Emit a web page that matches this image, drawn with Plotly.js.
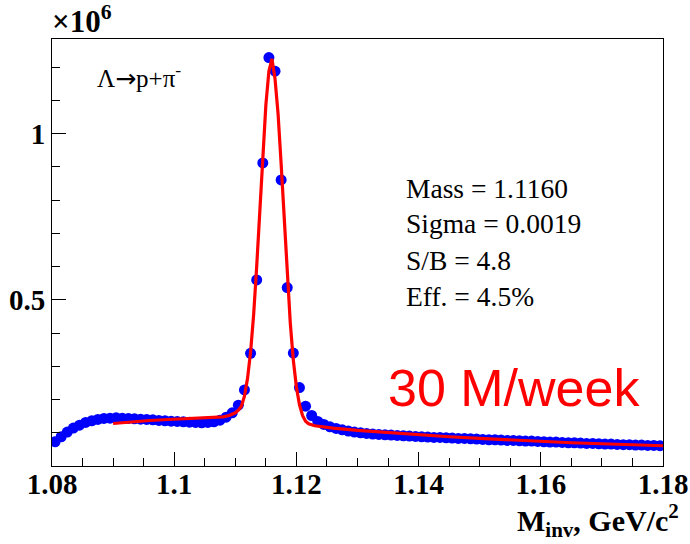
<!DOCTYPE html>
<html>
<head>
<meta charset="utf-8">
<script src="https://cdn.plot.ly/plotly-3.0.1.min.js"></script>
<style>html,body{margin:0;padding:0;background:#fff;}#chart{width:690px;height:544px;}</style>
</head>
<body>
<div id="chart"></div>
<script>
// Histogram binning (GeV/c^2)
const binStart = 1.08;
const binWidth = 0.001;
const nBins = 100;

// Measured counts per bin, in units of 10^6
const countsM = [
  0.073, 0.088, 0.102, 0.114, 0.123, 0.131, 0.136, 0.140, 0.143, 0.144,
  0.145, 0.144, 0.143, 0.142, 0.141, 0.140, 0.139, 0.137, 0.136, 0.135,
  0.134, 0.133, 0.132, 0.131, 0.130, 0.131, 0.133, 0.138, 0.147, 0.160,
  0.183, 0.229, 0.339, 0.560, 0.912, 1.229, 1.188, 0.861, 0.537, 0.340,
  0.236, 0.180, 0.152, 0.134, 0.125, 0.118, 0.113, 0.109, 0.105, 0.102,
  0.100, 0.098, 0.096, 0.095, 0.094, 0.093, 0.092, 0.091, 0.090, 0.089,
  0.088, 0.087, 0.086, 0.086, 0.085, 0.084, 0.083, 0.083, 0.082, 0.081,
  0.080, 0.079, 0.079, 0.078, 0.077, 0.077, 0.076, 0.075, 0.075, 0.074,
  0.073, 0.072, 0.072, 0.071, 0.070, 0.070, 0.069, 0.068, 0.068, 0.067,
  0.066, 0.066, 0.065, 0.064, 0.064, 0.063, 0.063, 0.062, 0.062, 0.061
];

// Fit curve (red), units of 10^6
const fitMass = [1.090,1.093,1.096,1.099,1.102,1.105,1.107,1.108,1.109,1.110,1.1105,1.111,1.1115,1.112,1.1125,1.113,1.1135,1.114,1.1145,1.115,1.1155,1.116,1.1165,1.117,1.1175,1.118,1.1185,1.119,1.1195,1.120,1.1205,1.121,1.1215,1.122,1.123,1.124,1.126,1.130,1.135,1.140,1.145,1.150,1.155,1.160,1.165,1.170,1.175,1.180];
const fitVals = [0.128,0.133,0.137,0.140,0.142,0.144,0.146,0.148,0.152,0.160,0.168,0.180,0.210,0.263,0.343,0.455,0.600,0.766,0.935,1.086,1.188,1.225,1.165,1.060,0.910,0.740,0.575,0.430,0.318,0.238,0.185,0.152,0.135,0.127,0.121,0.118,0.114,0.107,0.100,0.093,0.088,0.083,0.078,0.074,0.070,0.067,0.064,0.061];

const xTickVals = [1.08, 1.10, 1.12, 1.14, 1.16, 1.18];
const xTickText = ["1.08", "1.1", "1.12", "1.14", "1.16", "1.18"];
const yTickVals = [0.5, 1];
const yTickText = ["0.5", "1"];

const statLines = ["Mass = 1.1160", "Sigma = 0.0019", "S/B = 4.8", "Eff. = 4.5%"];
const decayText = "Λ<span style=\"font-family:DejaVu Sans\">→</span>p+π<sup>-</sup>";
const rateText = "30 M/week";

const binCenters = [];
for (let i = 0; i < nBins; i++) binCenters.push(+(binStart + binWidth * (i + 0.5)).toFixed(4));

const serif = "Liberation Serif, Times New Roman, serif";

const traces = [
  {x: binCenters, y: countsM, type: "scatter", mode: "markers",
   marker: {color: "#0000ff", size: 11}, hoverinfo: "skip"},
  {x: fitMass, y: fitVals, type: "scatter", mode: "lines",
   line: {color: "#ff0000", width: 3.2}, hoverinfo: "skip"}
];

const statY = [0.651, 0.569, 0.482, 0.396];
const annotations = statLines.map((t, i) => ({
  text: t, xref: "paper", yref: "paper", x: 0.576, y: statY[i],
  xanchor: "left", yanchor: "middle", showarrow: false,
  font: {family: serif, size: 27.5, color: "#000"}
}));
annotations.push(
  {text: decayText, xref: "paper", yref: "paper", x: 0.070, y: 0.912,
   xanchor: "left", yanchor: "middle", showarrow: false,
   font: {family: serif, size: 25, color: "#000"}},
  {text: rateText, xref: "paper", yref: "paper", x: 0.547, y: 0.183,
   xanchor: "left", yanchor: "middle", showarrow: false,
   font: {family: "Liberation Sans, Arial, sans-serif", size: 52, color: "#ff0000"}},
  {text: "×10<sup>6</sup>", xref: "paper", yref: "paper", x: -0.004, y: 0.995,
   xanchor: "left", yanchor: "bottom", showarrow: false,
   font: {family: serif, size: 31, color: "#000", weight: "bold"}},
  {text: "M<sub>inv</sub>, GeV/c<sup>2</sup>", xref: "paper", yref: "paper", x: 1.03, y: -0.128,
   xanchor: "right", yanchor: "middle", showarrow: false,
   font: {family: serif, size: 30, color: "#000", weight: "bold"}}
);

const layout = {
  width: 690, height: 544,
  margin: {l: 52, r: 27, t: 39, b: 78},
  paper_bgcolor: "#fff", plot_bgcolor: "#fff",
  showlegend: false,
  xaxis: {
    range: [1.08, 1.18], tickmode: "array", tickvals: xTickVals, ticktext: xTickText,
    ticks: "inside", ticklen: 14, tickwidth: 1, tickcolor: "#000",
    ticklabelstandoff: -8,
    showline: true, linecolor: "#000", linewidth: 1, mirror: true,
    showgrid: false, zeroline: false,
    tickfont: {family: serif, size: 29, color: "#000", weight: "bold"},
    minor: {dtick: 0.005, tick0: 1.08, ticks: "inside", ticklen: 8, tickcolor: "#000", showgrid: false}
  },
  yaxis: {
    range: [0, 1.285], tickmode: "array", tickvals: yTickVals, ticktext: yTickText,
    ticks: "inside", ticklen: 14, tickwidth: 1, tickcolor: "#000",
    showline: true, linecolor: "#000", linewidth: 1, mirror: true,
    showgrid: false, zeroline: false,
    tickfont: {family: serif, size: 29, color: "#000", weight: "bold"},
    minor: {dtick: 0.1, tick0: 0, ticks: "inside", ticklen: 8, tickcolor: "#000", showgrid: false}
  },
  annotations: annotations
};

Plotly.newPlot("chart", traces, layout, {staticPlot: true, displayModeBar: false});
</script>
</body>
</html>
